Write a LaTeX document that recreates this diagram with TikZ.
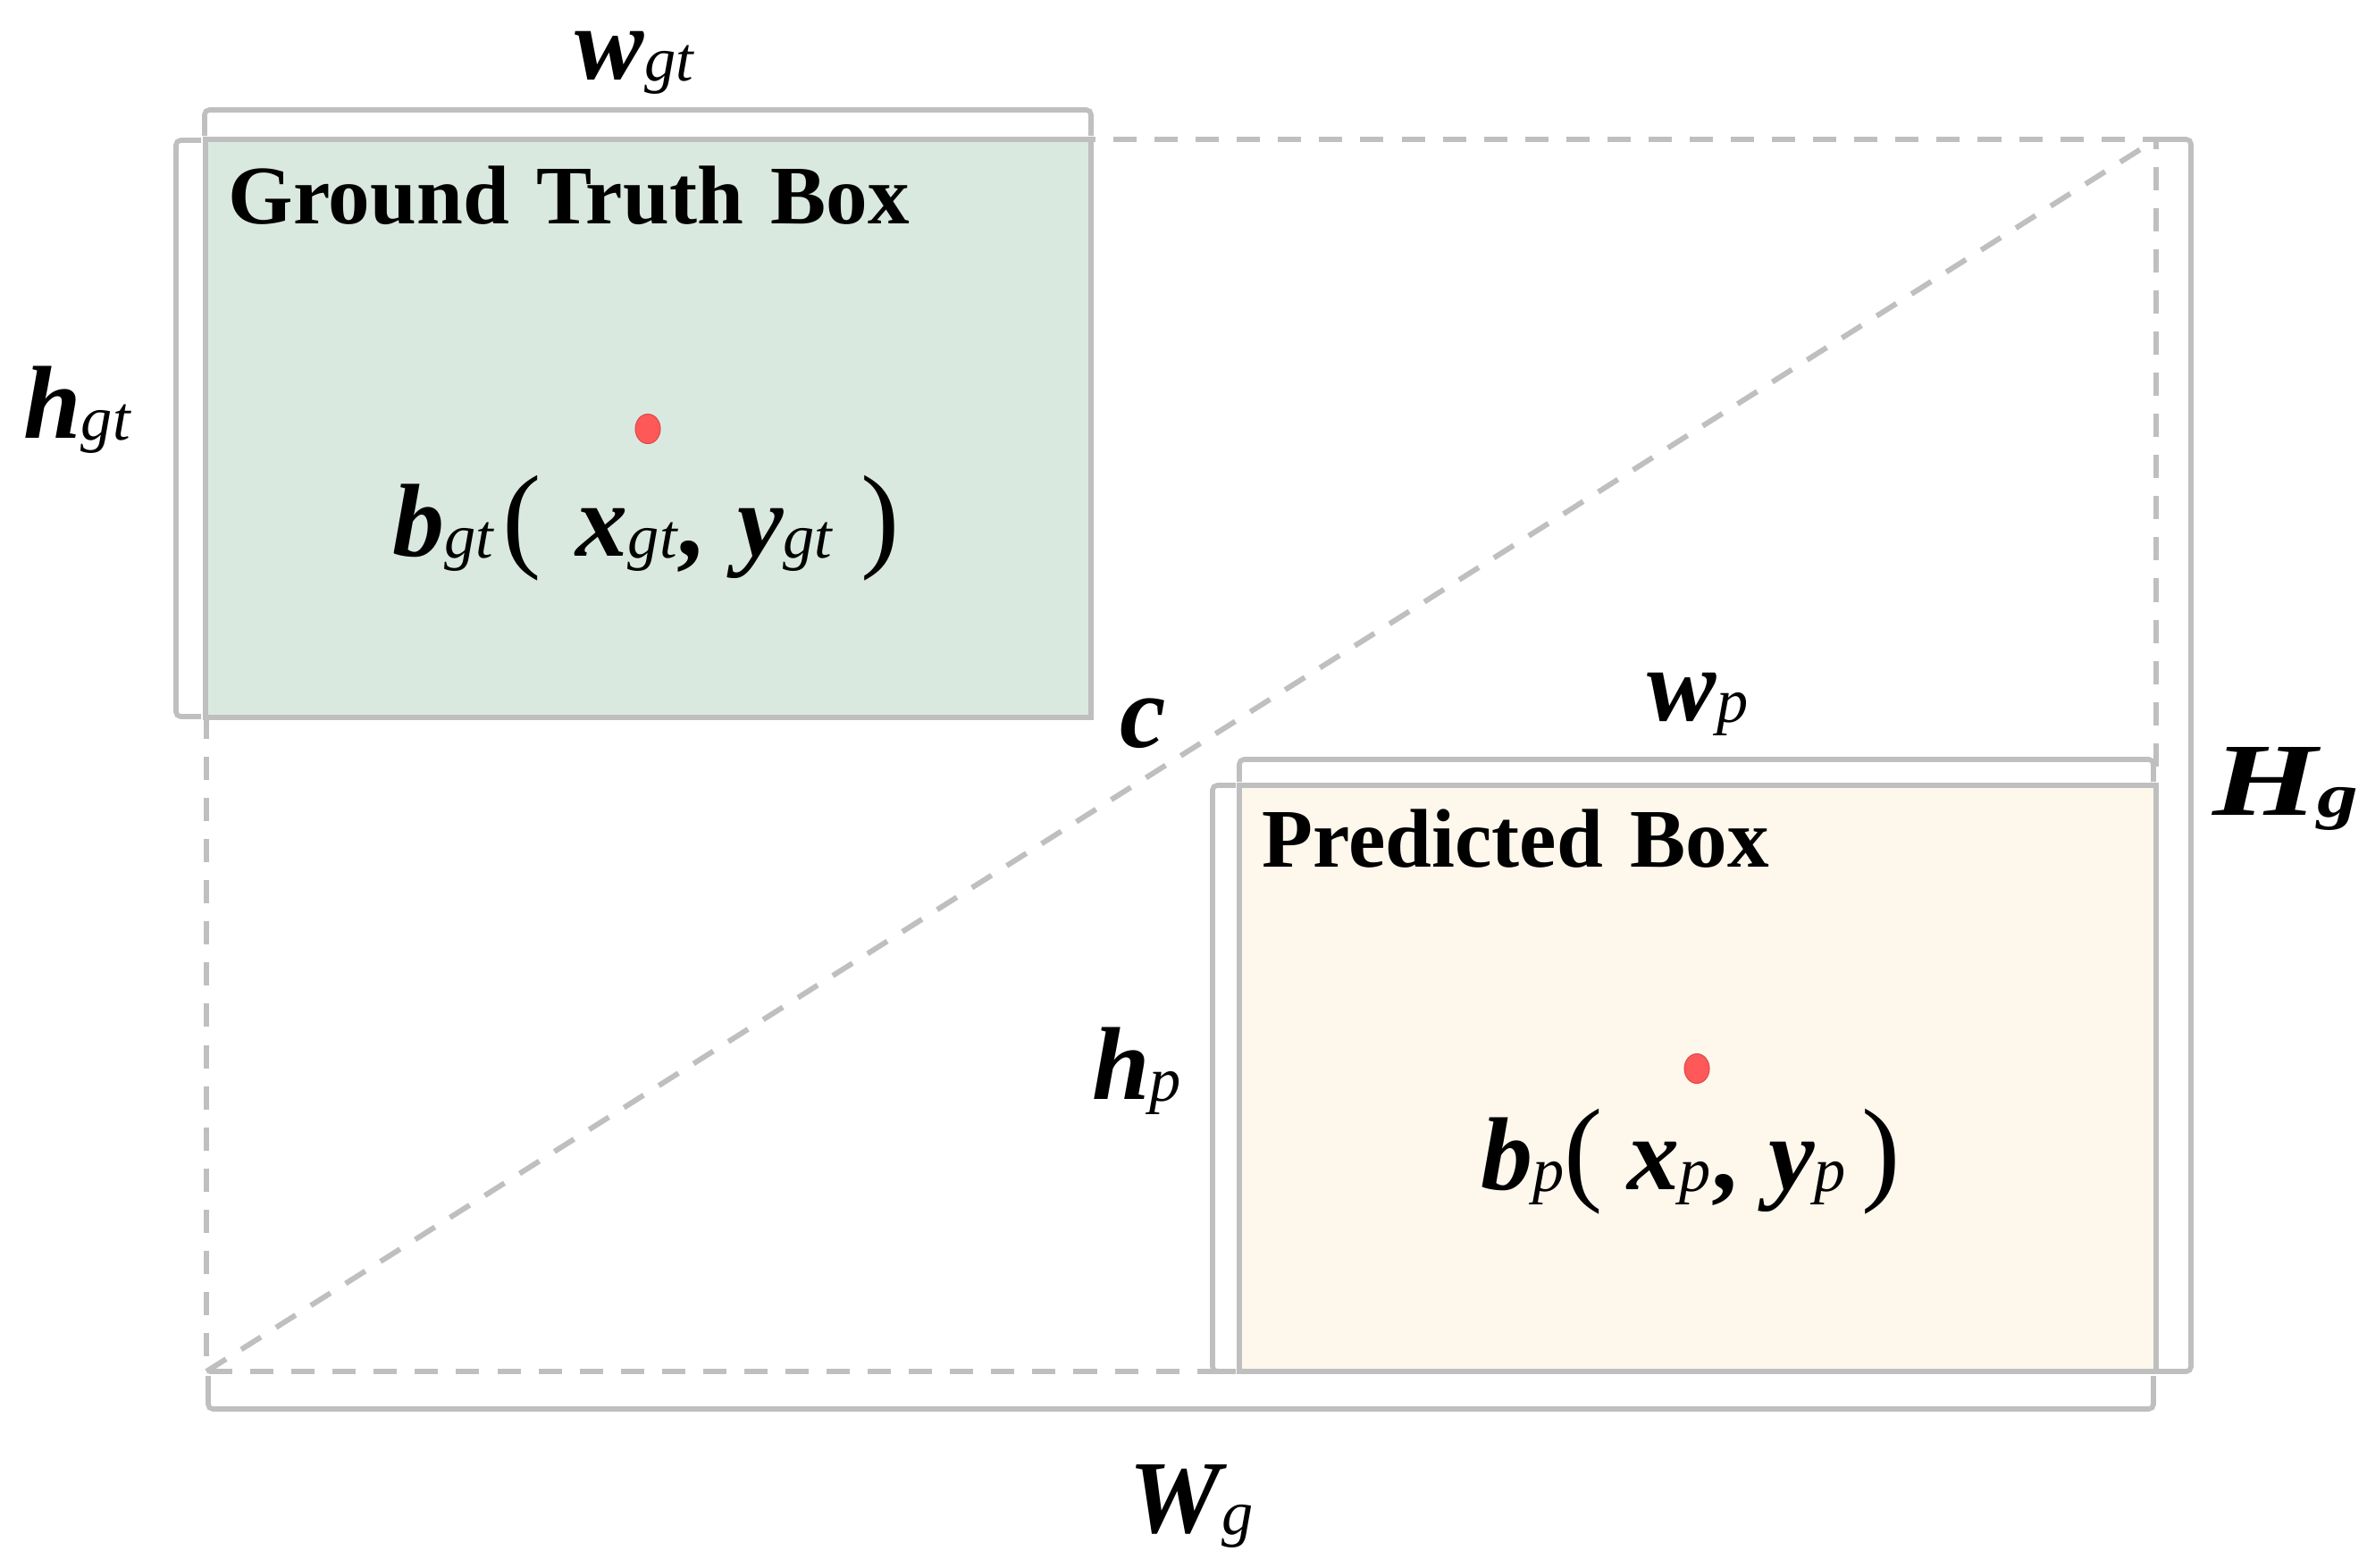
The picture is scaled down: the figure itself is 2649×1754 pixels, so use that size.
\documentclass[tikz,border=0pt]{standalone}
\usepackage{fontspec}
\setmainfont{Liberation Serif}
\usetikzlibrary{shapes.geometric}
\definecolor{lgray}{RGB}{191,191,191}
\definecolor{gtfill}{RGB}{218,233,223}
\definecolor{pfill}{RGB}{253,247,236}
\definecolor{dotred}{RGB}{255,88,88}
\newcommand\mainsz{\fontsize{33}{36}\selectfont}
\newcommand\subsz{\fontsize{20}{22}\selectfont}
\newcommand\mlab[2]{{\mainsz\bfseries\itshape #1}\raisebox{-0.08em}{\subsz\itshape #2}}
\newcommand\prn[1]{{\fontsize{37}{40}\selectfont #1}}
\begin{document}
\begin{tikzpicture}[x=0.01cm, y=-0.01cm,
  solidline/.style={draw=lgray, line width=1.6pt},
  dashline/.style={draw=lgray, line width=1.7pt, dash pattern=on 7.4pt off 5.7pt},
  bracket/.style={draw=lgray, line width=1.6pt, rounded corners=1.5pt},
  boxtitle/.style={font=\fontsize{26.5}{30}\selectfont\bfseries, anchor=base west, inner sep=0pt},
  lab/.style={anchor=base, inner sep=0pt},
  dot/.style={ellipse, fill=dotred, draw=dotred!85!black, line width=0.3pt, minimum width=0.28cm, minimum height=0.33cm, inner sep=0pt}]
\useasboundingbox (0,0) rectangle (2649,1754);
% corners
\coordinate (E1) at (231,156);
\coordinate (E2) at (2413,1535);
\coordinate (G1) at (230,156);
\coordinate (G2) at (1221,803);
\coordinate (P1) at (1387,879);
\coordinate (P2) at (2413,1535);
% enclosing dashed box and diagonal
\draw[dashline] (E1) rectangle (E2);
\draw[dashline] (E1 |- E2) -- (E2 |- E1);
% boxes
\fill[gtfill] (G1) rectangle (G2);
\draw[solidline] (G1) rectangle (G2);
\fill[pfill] (P1) rectangle (P2);
\draw[solidline] (P1) rectangle (P2);
% brackets
\draw[bracket] (229,152) -- (229,123) -- (1221,123) -- (1221,152);
\draw[bracket] (225,157) -- (197,157) -- (197,802) -- (225,802);
\draw[bracket] (1387,875) -- (1387,850) -- (2410,850) -- (2410,875);
\draw[bracket] (1383,879) -- (1357,879) -- (1357,1535) -- (1383,1535);
\draw[bracket] (2415,156) -- (2452,156) -- (2452,1535) -- (2415,1535);
\draw[bracket] (233,1540) -- (233,1577) -- (2410,1577) -- (2410,1540);
% centres
\node[dot] (cgt) at (725,480) {};
\node[dot] (cp) at (1899,1196) {};
% titles
\node[boxtitle] (tgt) at (255,250) {Ground\hspace{0.33em}Truth\hspace{0.33em}Box};
\node[boxtitle] (tp) at (1412,970) {Predicted\hspace{0.33em}Box};
% labels
\node[lab] (wgt) at (710,88) {\mlab{w}{gt}};
\node[lab] (hgt) at (86,490) {\mlab{h}{gt}};
\node[lab] (bgt) at (723,622) {\mlab{b}{gt}\hspace{3pt}\prn{(}\hspace{11pt}\mlab{x}{gt}{\mainsz\bfseries ,}\hspace{11pt}\mlab{y}{gt}\hspace{9pt}\prn{)}};
\node[lab] (c) at (1279,836) {{\mainsz\bfseries\itshape c}};
\node[lab] (wp) at (1900,806) {\mlab{w}{p}};
\node[lab] (Hg) at (2558,912) {\scalebox{1.3}[1]{{\mainsz\bfseries\itshape H}\raisebox{-0.08em}{\subsz\bfseries\itshape g}}};
\node[lab] (hp) at (1272,1230) {\mlab{h}{p}};
\node[lab] (bp) at (1892,1331) {\mlab{b}{p}\prn{(}\hspace{8pt}\mlab{x}{p}{\mainsz\bfseries ,}\hspace{10pt}\mlab{y}{p}\hspace{5pt}\prn{)}};
\node[lab] (Wg) at (1333,1715) {\mlab{W}{g}};
\end{tikzpicture}
\end{document}
